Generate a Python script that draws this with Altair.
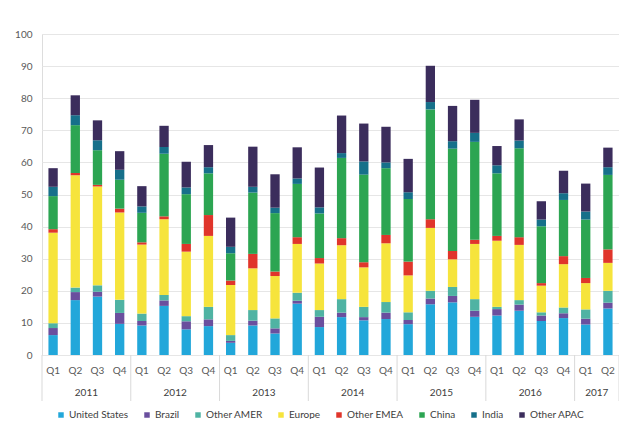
import altair as alt
import pandas as pd

FONT = "Lato"

quarters = ["Q1", "Q2", "Q3", "Q4"] * 6 + ["Q1", "Q2"]
bar_years = [str(y) for y in range(2011, 2017) for _ in range(4)] + ["2017", "2017"]

series = ["United States", "Brazil", "Other AMER", "Europe",
          "Other EMEA", "China", "India", "Other APAC"]
colors = ["#22a7da", "#6a4f9e", "#4fb3a3", "#f6e43c",
          "#e0352b", "#2ca552", "#16708a", "#3b2d5c"]

us = [6.2, 17.1, 18.2, 9.7, 9.2, 15.3, 8.0, 9.0, 3.8, 9.2, 6.7, 16.0,
      8.7, 11.8, 10.8, 11.2, 9.6, 15.8, 16.4, 11.9, 12.3, 13.8, 10.6, 11.5,
      9.5, 14.5]
brazil = [2.2, 2.5, 1.5, 3.4, 1.4, 1.7, 2.5, 2.1, 0.6, 1.5, 1.6, 0.9,
          3.2, 1.4, 1.0, 2.0, 1.3, 1.8, 2.0, 1.9, 2.0, 1.9, 1.7, 1.5,
          1.8, 1.8]
other_amer = [1.5, 1.4, 2.0, 4.1, 2.3, 1.7, 1.6, 3.9, 1.8, 3.3, 3.1, 2.5,
              2.1, 4.2, 3.2, 3.3, 2.4, 2.4, 2.8, 3.6, 0.7, 1.4, 1.0, 1.8,
              2.9, 3.7]
europe = [28.2, 35.0, 30.8, 27.2, 21.5, 23.6, 20.1, 22.1, 15.6, 13.0, 13.2, 15.2,
          14.5, 16.8, 12.3, 18.3, 11.5, 19.6, 8.6, 17.2, 20.6, 17.2, 8.3, 13.5,
          8.2, 8.7]
other_emea = [1.1, 0.7, 0.5, 1.2, 0.7, 0.9, 2.4, 6.5, 1.4, 4.5, 1.4, 2.1,
              1.7, 2.2, 1.6, 2.6, 4.3, 2.7, 2.6, 1.3, 1.5, 2.4, 0.8, 2.5,
              1.6, 4.2]
china = [10.3, 14.9, 10.8, 9.0, 9.2, 19.5, 15.5, 13.0, 8.5, 19.1, 18.2, 16.6,
         13.9, 25.0, 27.3, 20.8, 19.5, 34.2, 31.9, 30.5, 19.5, 27.7, 17.7, 17.5,
         18.2, 23.2]
india = [2.9, 3.1, 3.1, 3.1, 2.0, 2.1, 2.1, 1.9, 2.0, 1.8, 1.7, 1.7,
         1.9, 1.5, 4.1, 1.8, 2.1, 2.3, 2.3, 2.8, 2.5, 2.4, 2.1, 2.1,
         2.5, 2.4]
other_apac = [5.8, 6.2, 6.2, 5.8, 6.3, 6.6, 8.0, 6.9, 9.1, 12.5, 10.4, 9.7,
              12.4, 11.7, 11.8, 11.1, 10.4, 11.3, 11.0, 10.3, 6.0, 6.6, 5.7, 7.0,
              8.7, 6.1]

values = [us, brazil, other_amer, europe, other_emea, china, india, other_apac]

rows = []
for s_i, (name, vals) in enumerate(zip(series, values)):
    for i, v in enumerate(vals):
        rows.append({"idx": i, "series": name, "value": v, "order": s_i})
df = pd.DataFrame(rows)

n = len(quarters)
W, H = 577, 321
xscale = alt.Scale(domain=[-0.5, n - 0.5], nice=False, zero=False)
yscale = alt.Scale(domain=[0, 100], nice=False)

bars = alt.Chart(df).transform_stack(
    stack="value", groupby=["idx"],
    sort=[alt.SortField("order", order="ascending")], as_=["y0", "y1"]
).transform_calculate(
    xa="datum.idx - 0.21", xb="datum.idx + 0.21"
).mark_bar().encode(
    x=alt.X("xa:Q", scale=xscale, axis=None),
    x2="xb:Q",
    y=alt.Y("y0:Q", scale=yscale,
            axis=alt.Axis(values=list(range(0, 101, 10)), title=None,
                          domain=False, ticks=False, tickSize=0,
                          labelPadding=10, labelFontSize=10,
                          labelColor="#595959", gridColor="#e6e6e6",
                          labelFont=FONT)),
    y2="y1:Q",
    color=alt.Color("series:N", sort=series,
                    scale=alt.Scale(domain=series, range=colors),
                    legend=alt.Legend(orient="none", legendX=14, legendY=376,
                                      direction="horizontal", title=None,
                                      symbolType="square", symbolSize=30,
                                      symbolStrokeWidth=0,
                                      labelFontSize=10, labelColor="#404040",
                                      labelFont=FONT, columnPadding=13,
                                      labelOffset=3, padding=0)),
    order=alt.Order("order:Q"),
)

ydf = pd.DataFrame({"idx": list(range(n)), "year": bar_years, "quarter": quarters})

q_text = alt.Chart(ydf).mark_text(
    baseline="middle", fontSize=10, color="#595959", font=FONT
).encode(
    x=alt.X("idx:Q", scale=xscale),
    y=alt.value(H + 16),
    text="quarter:N",
)

year_text = alt.Chart(ydf).transform_aggregate(
    xc="mean(idx)", groupby=["year"]
).mark_text(baseline="middle", fontSize=10, color="#404040", font=FONT).encode(
    x=alt.X("xc:Q", scale=xscale),
    y=alt.value(H + 38),
    text="year:N",
)

bounds = [i - 0.5 for i in range(n) if i == 0 or bar_years[i] != bar_years[i - 1]] + [n - 0.5]
sep = alt.Chart(pd.DataFrame({"b": bounds})).mark_rule(
    color="#d9d9d9", strokeWidth=1
).encode(
    x=alt.X("b:Q", scale=xscale),
    y=alt.value(H),
    y2=alt.value(H + 46),
)

chart = alt.layer(bars, sep, q_text, year_text).properties(
    width=W, height=H,
    padding={"left": 34, "top": 26, "right": 0, "bottom": 64},
    autosize=alt.AutoSizeParams(type="none"),
).configure_view(stroke=None).configure(font=FONT)

chart.save("out.html", embed_options={"renderer": "svg", "actions": False})
